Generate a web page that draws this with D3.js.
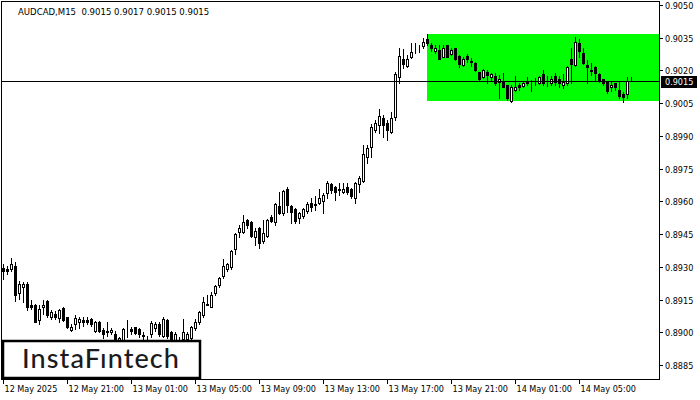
<!DOCTYPE html>
<html><head><meta charset="utf-8">
<script src="https://cdn.jsdelivr.net/npm/d3@7"></script>
<style>
html,body{margin:0;padding:0;background:#fff;}
svg{display:block;}
.lbl{font-family:"DejaVu Sans Condensed","Liberation Sans",Arial,sans-serif;font-size:9px;fill:#000;}
</style></head><body>
<svg id="chart" width="700" height="400"></svg>
<script>
const chartTitle = "AUDCAD,M15  0.9015 0.9017 0.9015 0.9015";
const opens = [0.89294,0.89291,0.89291,0.89302,0.89179,0.89207,0.89222,0.89127,0.89127,0.89057,
 0.89115,0.89143,0.89072,0.89085,0.89064,0.89112,0.89069,0.89011,0.89036,0.89046,
 0.89054,0.89057,0.89062,0.89005,0.89046,0.89011,0.88999,0.88999,0.88993,0.88959,
 0.88962,0.89007,0.89014,0.89023,0.89016,0.88986,0.88974,0.88990,0.89020,0.89039,
 0.88985,0.89054,0.89000,0.88962,0.88970,0.88970,0.88970,0.88974,0.89020,0.89046,
 0.89077,0.89126,0.89115,0.89179,0.89215,0.89257,0.89291,0.89299,0.89383,0.89458,
 0.89458,0.89513,0.89504,0.89435,0.89476,0.89417,0.89440,0.89527,0.89504,0.89577,
 0.89545,0.89655,0.89577,0.89564,0.89522,0.89531,0.89554,0.89591,0.89586,0.89591,
 0.89600,0.89637,0.89678,0.89665,0.89655,0.89642,0.89665,0.89655,0.89614,0.89678,
 0.89692,0.89802,0.89848,0.89926,0.89949,0.89981,0.89958,0.89917,0.89986,0.90169,
 0.90252,0.90220,0.90261,0.90293,0.90303,0.90312,0.90344,0.90316,0.90289,0.90293,
 0.90261,0.90316,0.90275,0.90303,0.90266,0.90225,0.90266,0.90243,0.90234,0.90192,
 0.90169,0.90192,0.90169,0.90174,0.90147,0.90147,0.90133,0.90059,0.90110,0.90133,
 0.90128,0.90147,0.90144,0.90147,0.90141,0.90183,0.90149,0.90141,0.90174,0.90159,
 0.90133,0.90141,0.90251,0.90225,0.90324,0.90281,0.90225,0.90202,0.90214,0.90183,
 0.90159,0.90148,0.90122,0.90141,0.90110,0.90091,0.90090,0.90150];
const highs = [0.89314,0.89306,0.89342,0.89322,0.89234,0.89230,0.89230,0.89146,0.89131,0.89123,
 0.89146,0.89146,0.89100,0.89097,0.89108,0.89115,0.89072,0.89036,0.89077,0.89072,
 0.89069,0.89069,0.89066,0.89051,0.89051,0.89020,0.89046,0.89020,0.89008,0.88980,
 0.89020,0.89057,0.89026,0.89026,0.89020,0.89000,0.88985,0.89051,0.89046,0.89046,
 0.89069,0.89062,0.89008,0.89000,0.88980,0.89062,0.89000,0.89031,0.89062,0.89097,
 0.89161,0.89169,0.89184,0.89218,0.89253,0.89337,0.89319,0.89375,0.89456,0.89490,
 0.89536,0.89518,0.89508,0.89476,0.89481,0.89513,0.89518,0.89536,0.89591,0.89642,
 0.89651,0.89665,0.89582,0.89568,0.89550,0.89568,0.89596,0.89614,0.89623,0.89655,
 0.89637,0.89692,0.89683,0.89669,0.89683,0.89683,0.89683,0.89660,0.89687,0.89715,
 0.89857,0.89857,0.89954,0.89972,0.90023,0.89995,0.89972,0.90009,0.90192,0.90303,
 0.90298,0.90271,0.90326,0.90326,0.90316,0.90349,0.90367,0.90326,0.90316,0.90316,
 0.90316,0.90316,0.90303,0.90303,0.90271,0.90261,0.90275,0.90257,0.90238,0.90195,
 0.90206,0.90202,0.90188,0.90188,0.90179,0.90188,0.90133,0.90133,0.90174,0.90142,
 0.90147,0.90169,0.90156,0.90165,0.90174,0.90202,0.90174,0.90174,0.90187,0.90174,
 0.90183,0.90220,0.90301,0.90352,0.90343,0.90301,0.90248,0.90232,0.90220,0.90187,
 0.90160,0.90149,0.90148,0.90142,0.90148,0.90102,0.90171,0.90170];
const lows = [0.89245,0.89268,0.89283,0.89143,0.89154,0.89138,0.89103,0.89108,0.89046,0.89039,
 0.89085,0.89072,0.89062,0.89062,0.89046,0.89051,0.89020,0.89005,0.89016,0.89020,
 0.89031,0.89036,0.89031,0.89000,0.89000,0.88974,0.88985,0.88990,0.88954,0.88950,
 0.88954,0.88980,0.88993,0.88990,0.88980,0.88954,0.88954,0.88980,0.89008,0.88985,
 0.88980,0.88974,0.88954,0.88947,0.88947,0.88962,0.88962,0.88965,0.89011,0.89036,
 0.89072,0.89123,0.89115,0.89169,0.89207,0.89248,0.89280,0.89291,0.89360,0.89435,
 0.89453,0.89476,0.89435,0.89398,0.89384,0.89407,0.89435,0.89504,0.89490,0.89541,
 0.89536,0.89550,0.89499,0.89499,0.89499,0.89522,0.89545,0.89554,0.89559,0.89586,
 0.89545,0.89614,0.89637,0.89605,0.89628,0.89637,0.89632,0.89614,0.89591,0.89642,
 0.89687,0.89775,0.89802,0.89917,0.89912,0.89894,0.89880,0.89912,0.89972,0.90142,
 0.90211,0.90215,0.90257,0.90280,0.90284,0.90303,0.90316,0.90289,0.90280,0.90252,
 0.90261,0.90261,0.90271,0.90248,0.90215,0.90220,0.90238,0.90220,0.90197,0.90156,
 0.90165,0.90142,0.90156,0.90133,0.90073,0.90124,0.90064,0.90055,0.90105,0.90110,
 0.90124,0.90133,0.90107,0.90133,0.90137,0.90133,0.90128,0.90133,0.90133,0.90122,
 0.90118,0.90133,0.90141,0.90220,0.90263,0.90229,0.90141,0.90179,0.90156,0.90148,
 0.90133,0.90097,0.90107,0.90110,0.90072,0.90056,0.90072,0.90150];
const closes = [0.89283,0.89283,0.89311,0.89169,0.89222,0.89222,0.89115,0.89118,0.89049,0.89108,
 0.89126,0.89077,0.89091,0.89072,0.89100,0.89054,0.89026,0.89026,0.89066,0.89062,
 0.89049,0.89046,0.89036,0.89046,0.89008,0.88990,0.89008,0.89011,0.88965,0.88974,
 0.89016,0.89008,0.89005,0.88996,0.88993,0.88985,0.88976,0.89042,0.89036,0.88993,
 0.89062,0.88985,0.88962,0.88993,0.88967,0.89000,0.88990,0.89023,0.89046,0.89092,
 0.89138,0.89131,0.89169,0.89210,0.89250,0.89302,0.89311,0.89371,0.89452,0.89476,
 0.89504,0.89490,0.89440,0.89463,0.89407,0.89453,0.89513,0.89508,0.89586,0.89545,
 0.89646,0.89582,0.89550,0.89508,0.89545,0.89564,0.89586,0.89573,0.89585,0.89614,
 0.89628,0.89683,0.89651,0.89642,0.89654,0.89655,0.89642,0.89623,0.89683,0.89706,
 0.89816,0.89844,0.89940,0.89958,0.89990,0.89949,0.89926,0.89981,0.90183,0.90266,
 0.90229,0.90252,0.90284,0.90292,0.90301,0.90330,0.90326,0.90303,0.90303,0.90252,
 0.90303,0.90261,0.90293,0.90252,0.90229,0.90252,0.90252,0.90238,0.90202,0.90160,
 0.90202,0.90179,0.90183,0.90142,0.90160,0.90124,0.90073,0.90124,0.90124,0.90124,
 0.90142,0.90142,0.90142,0.90149,0.90171,0.90141,0.90147,0.90159,0.90148,0.90141,
 0.90148,0.90214,0.90229,0.90332,0.90290,0.90232,0.90214,0.90199,0.90189,0.90153,
 0.90141,0.90107,0.90133,0.90122,0.90082,0.90079,0.90150,0.90150];
const timeLabels = ["12 May 2025","12 May 21:00","13 May 01:00","13 May 05:00","13 May 09:00",
 "13 May 13:00","13 May 17:00","13 May 21:00","14 May 01:00","14 May 05:00"];
const timeLabelBars = [0,16,32,48,64,80,96,112,128,144];
const priceTicks = [0.9050,0.9035,0.9020,0.9005,0.8990,0.8975,0.8960,0.8945,0.8930,0.8915,0.8900,0.8885];
const currentPrice = 0.9015;
const rangeStartBar = 106;
const rangeHigh = 0.90367;
const rangeLow = 0.90060;
const logoText = "InstaF\u0131ntech";

const svg = d3.select("#chart");
const W = 700, H = 400;
const plotL = 1, plotT = 1, plotR = 659, plotB = 379;

const n = Math.min(opens.length, highs.length, lows.length, closes.length);
const bars = d3.range(n).map(i => ({i, o: opens[i], h: highs[i], l: lows[i], c: closes[i]}));

const x = d3.scaleLinear().domain([0, 157]).range([3, 631]);
const y = d3.scaleLinear().domain([0.8885, 0.9050]).range([365, 5]);
const px = v => Math.round(x(v)) + 0.5;
const py = v => Math.round(y(v)) + 0.5;

svg.append("rect").attr("width", W).attr("height", H).attr("fill", "#fff");

const defs = svg.append("defs");
defs.append("clipPath").attr("id", "plotclip").append("rect")
  .attr("x", plotL + 1).attr("y", plotT + 1).attr("width", plotR - plotL - 1).attr("height", plotB - plotT - 1);

const plot = svg.append("g").attr("clip-path", "url(#plotclip)");

// rectangle pattern
plot.append("rect")
  .attr("x", Math.round(x(rangeStartBar)))
  .attr("y", Math.round(y(rangeHigh)))
  .attr("width", plotR - Math.round(x(rangeStartBar)))
  .attr("height", Math.round(y(rangeLow)) - Math.round(y(rangeHigh)))
  .attr("fill", "#00ff00");

// candles
const cg = plot.append("g");
cg.selectAll("line.wick").data(bars).join("line").attr("class", "wick")
  .attr("x1", d => px(d.i)).attr("x2", d => px(d.i))
  .attr("y1", d => Math.round(y(d.h))).attr("y2", d => Math.round(y(d.l)) + 1)
  .attr("stroke", "#000").attr("stroke-width", 1).attr("shape-rendering", "crispEdges");
cg.selectAll("rect.body").data(bars).join("rect").attr("class", "body")
  .attr("x", d => Math.round(x(d.i)) - 0.5)
  .attr("y", d => Math.round(y(Math.max(d.o, d.c))) + 0.5)
  .attr("width", 2)
  .attr("height", d => Math.max(0, Math.round(y(Math.min(d.o, d.c))) - Math.round(y(Math.max(d.o, d.c)))))
  .attr("fill", d => d.c >= d.o ? "#fff" : "#000")
  .attr("stroke", "#000").attr("stroke-width", 1).attr("shape-rendering", "crispEdges");

// current price line
plot.append("line")
  .attr("x1", plotL).attr("x2", plotR)
  .attr("y1", py(currentPrice)).attr("y2", py(currentPrice))
  .attr("stroke", "#000").attr("stroke-width", 1).attr("shape-rendering", "crispEdges");

// frame
svg.append("rect").attr("x", plotL + 0.5).attr("y", plotT + 0.5)
  .attr("width", plotR - plotL).attr("height", plotB - plotT)
  .attr("fill", "none").attr("stroke", "#000").attr("stroke-width", 1).attr("shape-rendering", "crispEdges");

// right axis
const ya = svg.append("g");
priceTicks.forEach(v => {
  const yy = py(v);
  ya.append("line").attr("x1", plotR + 1).attr("x2", plotR + 4).attr("y1", yy).attr("y2", yy)
    .attr("stroke", "#000").attr("shape-rendering", "crispEdges");
  ya.append("text").attr("class", "lbl").attr("x", 665).attr("y", yy).attr("dy", "0.35em")
    .text(d3.format(".4f")(v));
});

// current price label
const cpy = py(currentPrice);
svg.append("rect").attr("x", 661).attr("y", Math.round(cpy) - 6).attr("width", 36).attr("height", 12).attr("fill", "#000");
svg.append("text").attr("class", "lbl").attr("x", 665).attr("y", cpy).attr("dy", "0.35em")
  .style("fill", "#fff").text(d3.format(".4f")(currentPrice));

// bottom axis
const xa = svg.append("g");
timeLabels.forEach((t, k) => {
  const xx = px(timeLabelBars[k]);
  xa.append("line").attr("x1", xx).attr("x2", xx).attr("y1", plotB + 1).attr("y2", plotB + 5)
    .attr("stroke", "#000").attr("shape-rendering", "crispEdges");
  xa.append("text").attr("class", "lbl").attr("x", xx + 1).attr("y", 389).attr("dy", "0.35em").text(t);
});

// title
svg.append("text").attr("class", "lbl").attr("x", 18).attr("y", 12).attr("dy", "0.35em")
  .style("white-space", "pre").style("font-size", "9.5px").attr("xml:space", "preserve").text(chartTitle);

// logo
svg.append("rect").attr("x", 3).attr("y", 341).attr("width", 197).attr("height", 37)
  .attr("fill", "#fff").attr("stroke", "#000").attr("stroke-width", 2.5);
svg.append("text").attr("x", 101).attr("y", 368).attr("text-anchor", "middle")
  .style("font-family", "Lato, 'Open Sans', sans-serif").style("font-weight", "500")
  .style("letter-spacing", "1.1px")
  .style("font-size", "27px").style("fill", "#1b1b1b").text(logoText);
</script>
</body></html>
